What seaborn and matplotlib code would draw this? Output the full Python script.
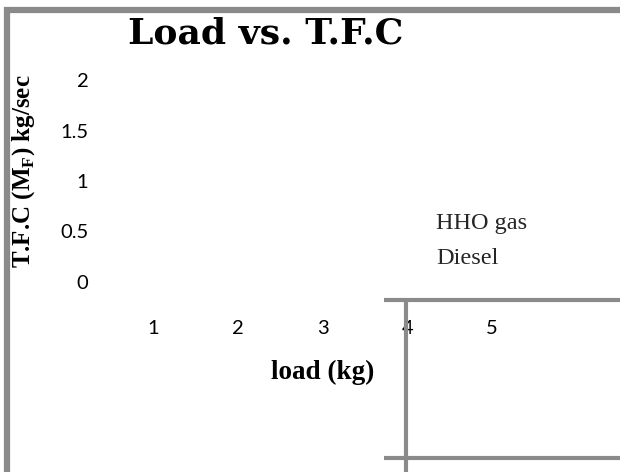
import numpy as np
import pandas as pd
import matplotlib
matplotlib.use("Agg")
import matplotlib.pyplot as plt
from matplotlib.lines import Line2D
import seaborn as sns

# Chart data
loads = [1, 2, 3, 4, 5]
hho_gas = [np.nan, np.nan, np.nan, np.nan, np.nan]
diesel = [np.nan, np.nan, np.nan, np.nan, np.nan]
series_names = ["HHO gas", "Diesel"]
y_ticks = [0, 0.5, 1, 1.5, 2]
y_tick_labels = ["0", "0.5", "1", "1.5", "2"]

title = "Load vs. T.F.C"
x_label = "load (kg)"
y_label = r"T.F.C (M$_{\mathbf{F}}$) kg/sec"

sns.set_theme(style="white")
plt.rcParams["mathtext.fontset"] = "custom"
plt.rcParams["mathtext.rm"] = "Liberation Serif:bold"
plt.rcParams["mathtext.bf"] = "Liberation Serif:bold"

df = pd.DataFrame({
    "load": loads * 2,
    "tfc": hho_gas + diesel,
    "fuel": [series_names[0]] * len(loads) + [series_names[1]] * len(loads),
})

fig = plt.figure(figsize=(6.2, 4.72), dpi=100)
fig.patch.set_facecolor("white")
ax = fig.add_axes([110.6 / 620, 1 - 282 / 472, 423.8 / 620, 202 / 472])

sns.lineplot(data=df, x="load", y="tfc", hue="fuel", hue_order=series_names,
             ax=ax, legend=True)

ax.set_xlim(0.5, 5.5)
ax.set_ylim(0, 2)
ax.set_xticks(loads)
ax.set_xticklabels([str(v) for v in loads])
ax.set_yticks(y_ticks)
ax.set_yticklabels(y_tick_labels)
for lab in ax.get_xticklabels() + ax.get_yticklabels():
    lab.set_fontfamily("Lato")
    lab.set_fontsize(14.5)
    lab.set_color("black")
ax.tick_params(axis="x", length=0, pad=27)
ax.tick_params(axis="y", length=0, pad=16)
for s in ax.spines.values():
    s.set_visible(False)
ax.grid(False)

ax.set_xlabel(x_label, fontfamily="Liberation Serif", fontweight="bold",
              fontsize=19.5, color="black")
ax.xaxis.set_label_coords(0.5, -0.45)
ax.xaxis.label.set_va("center")
ax.set_ylabel(y_label, fontfamily="Liberation Serif", fontweight="bold",
              fontsize=18, color="black")
ax.yaxis.set_label_coords(-0.205, 0.55)
ax.yaxis.label.set_va("center")

handles, labels = ax.get_legend_handles_labels()
leg = ax.legend(handles, labels, loc="center left", bbox_to_anchor=(0.768, 0.205),
                frameon=False, handlelength=0, handletextpad=0, borderpad=0,
                borderaxespad=0, labelspacing=0.55,
                prop={"family": "Liberation Serif", "size": 17.5})
for ln in leg.get_lines():
    ln.set_alpha(0)

fig.text(266 / 620, 1 - 33 / 472, title, ha="center", va="center",
         fontfamily="DejaVu Serif", fontweight="bold", fontsize=26, color="black")

# Frame lines around the chart area
grey = "#8a8a8a"
def hline(y, x0, x1, lw):
    fig.add_artist(Line2D([x0 / 620, x1 / 620], [1 - y / 472, 1 - y / 472],
                          color=grey, lw=lw, transform=fig.transFigure,
                          solid_capstyle="butt"))
def vline(x, y0, y1, lw):
    fig.add_artist(Line2D([x / 620, x / 620], [1 - y0 / 472, 1 - y1 / 472],
                          color=grey, lw=lw, transform=fig.transFigure,
                          solid_capstyle="butt"))

hline(9.5, 4, 620, 4.5)
vline(7, 7, 472, 4.5)
hline(300, 384, 620, 3)
hline(458, 384, 620, 3)
vline(406, 298, 472, 3)

fig.savefig("out.png", dpi=100, facecolor="white")
